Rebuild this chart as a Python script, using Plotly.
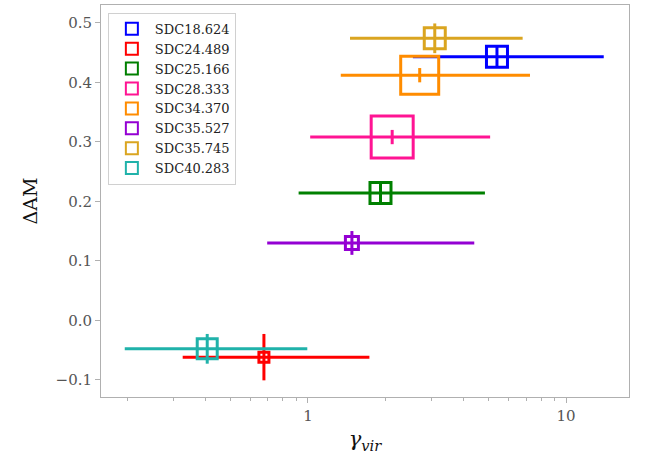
import plotly.graph_objects as go

# Per-source measurements: virial parameter and angular-momentum offset
sources = ["SDC18.624", "SDC24.489", "SDC25.166", "SDC28.333",
           "SDC34.370", "SDC35.527", "SDC35.745", "SDC40.283"]
gamma_vir = [5.4, 0.675, 1.91, 2.12, 2.71, 1.48, 3.10, 0.407]
gamma_lo = [2.55, 0.327, 0.92, 1.02, 1.34, 0.695, 1.455, 0.195]
gamma_hi = [14.0, 1.73, 4.85, 5.08, 7.25, 4.41, 6.79, 0.994]
delta_am = [0.443, -0.062, 0.214, 0.308, 0.412, 0.130, 0.474, -0.048]
delta_am_err = [0.018, 0.039, 0.018, 0.012, 0.012, 0.020, 0.025, 0.025]
marker_sizes = [21, 10, 21, 42, 38, 13, 21, 20]
colors = ["#0000ff", "#ff0000", "#008000", "#ff1493",
          "#ff8c00", "#9400d3", "#daa520", "#20b2aa"]

SERIF = "DejaVu Serif"
GRID_GRAY = "#b0b0b0"
TICK_GRAY = "#555555"

fig = go.Figure()
for name, x, lo, hi, y, ye, s, c in zip(sources, gamma_vir, gamma_lo, gamma_hi,
                                        delta_am, delta_am_err, marker_sizes, colors):
    fig.add_trace(go.Scatter(
        x=[x], y=[y], name=name, mode="markers",
        marker=dict(symbol="square-open", size=s, color=c, line=dict(width=3, color=c)),
        error_x=dict(type="data", symmetric=False, array=[hi - x], arrayminus=[x - lo],
                     color=c, thickness=3, width=0),
        error_y=dict(type="data", array=[ye], color=c, thickness=3, width=0),
    ))

fig.update_layout(
    width=649, height=455,
    margin=dict(l=101, r=20, t=5, b=58),
    paper_bgcolor="white", plot_bgcolor="white",
    font=dict(family=SERIF, color=TICK_GRAY),
    legend=dict(
        x=0.013, y=0.98, xanchor="left", yanchor="top",
        bgcolor="white", bordercolor="#d0d0d0", borderwidth=1,
        font=dict(family=SERIF, size=13, color="#222222"),
        itemsizing="constant", tracegroupgap=0, itemwidth=36,
    ),
    xaxis=dict(
        type="log", range=[-0.802, 1.244], dtick=1,
        showgrid=False, zeroline=False,
        showline=True, linecolor=GRID_GRAY, linewidth=1, mirror=True,
        ticks="outside", ticklen=5, tickcolor=GRID_GRAY,
        tickfont=dict(family=SERIF, size=15, color=TICK_GRAY),
        minor=dict(ticks="outside", ticklen=3, tickcolor=GRID_GRAY, dtick="D1", showgrid=False),
        title=dict(text="<i>γ<sub>vir</sub></i>", font=dict(family=SERIF, size=21, color="#111111"),
                   standoff=7),
    ),
    yaxis=dict(
        range=[-0.129, 0.530], dtick=0.1, tickformat=".1f",
        showgrid=False, zeroline=False,
        showline=True, linecolor=GRID_GRAY, linewidth=1, mirror=True,
        ticks="outside", ticklen=5, tickcolor=GRID_GRAY,
        tickfont=dict(family=SERIF, size=15, color=TICK_GRAY),
        title=dict(text="ΔAM", font=dict(family=SERIF, size=19, color="#111111"), standoff=12),
    ),
)

fig.write_html("out.html")
